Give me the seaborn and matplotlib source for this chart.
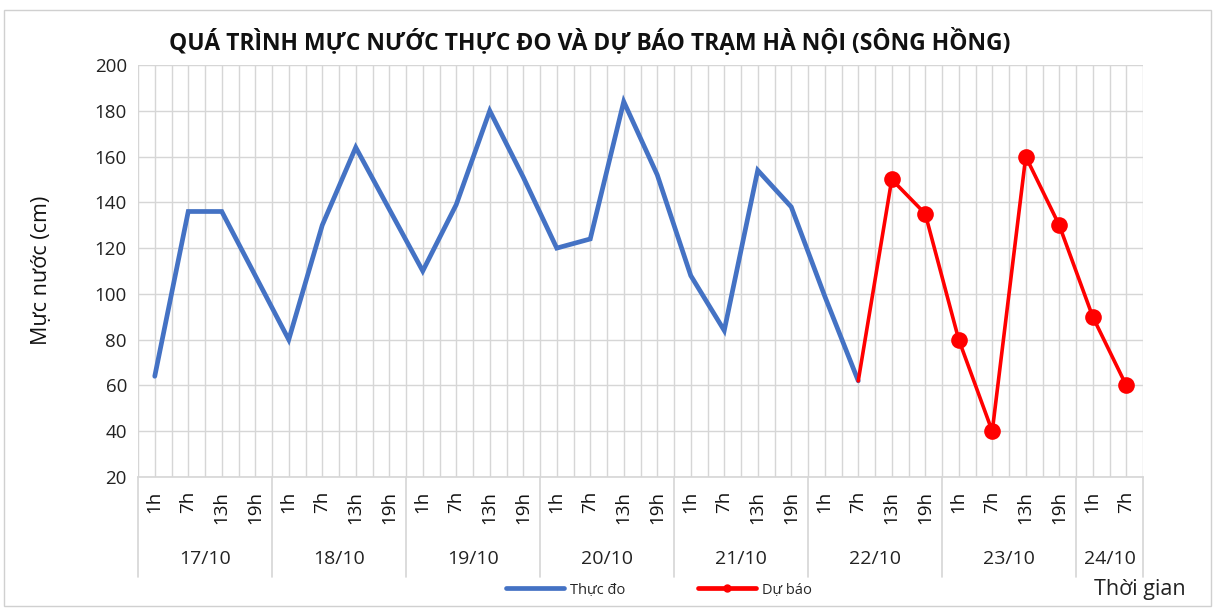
import matplotlib
matplotlib.use("Agg")
import matplotlib.pyplot as plt
import seaborn as sns
import numpy as np
import pandas as pd
from matplotlib.lines import Line2D
from matplotlib.patches import Rectangle
import matplotlib.transforms as mtransforms

days = ["17/10", "18/10", "19/10", "20/10", "21/10", "22/10", "23/10", "24/10"]
hours_per_day = [["1h", "7h", "13h", "19h"]] * 7 + [["1h", "7h"]]
observed = [64, 136, 136, 108, 80, 130, 164, 137, 110, 139, 180, 151,
            120, 124, 184, 152, 108, 84, 154, 138, 99, 62]
forecast = [62, 150, 135, 80, 40, 160, 130, 90, 60]
yticks = [20, 40, 60, 80, 100, 120, 140, 160, 180, 200]

title = "QUÁ TRÌNH MỰC NƯỚC THỰC ĐO VÀ DỰ BÁO TRẠM HÀ NỘI (SÔNG HỒNG)"
ylabel = "Mực nước (cm)"
xlabel = "Thời gian"
series_names = ["Thực đo", "Dự báo"]

sns.set_theme(style="white")
plt.rcParams['font.family'] = ['Open Sans', 'DejaVu Sans']

hour_labels = [h for hs in hours_per_day for h in hs]
n = len(hour_labels)
xpos = np.arange(n)

obs_df = pd.DataFrame({"x": xpos[:len(observed)], "y": observed})
fc_start = len(observed) - 1
fc_df = pd.DataFrame({"x": xpos[fc_start:fc_start + len(forecast)], "y": forecast})

fig = plt.figure(figsize=(12.17, 6.10), dpi=100)
ax = fig.add_axes([138/1217, 1 - 477/610, (1143-138)/1217, (477-65)/610])

blue = "#4472C4"
red = "#FF0000"
grid_c = "#d6d6d6"

sns.lineplot(data=obs_df, x="x", y="y", ax=ax, color=blue, linewidth=3.4,
             solid_joinstyle="miter", zorder=3)
sns.lineplot(data=fc_df, x="x", y="y", ax=ax, color=red, linewidth=2.6,
             marker="o", markersize=12, markeredgewidth=0, markevery=list(range(1, len(forecast))),
             zorder=4)

ax.set_xlim(-0.5, n - 0.5)
ax.set_ylim(20, 200)
ax.set_yticks(yticks)
ax.set_yticklabels([str(v) for v in yticks], fontsize=13.5, color="#222222")
ax.tick_params(axis="y", length=0, pad=8)

# vertical gridlines at centers and boundaries
ax.set_xticks(np.arange(-0.5, n, 0.5))
ax.set_xticklabels([])
ax.tick_params(axis="x", length=0)
ax.grid(True, axis="both", color=grid_c, linewidth=1.0, zorder=0)
ax.set_axisbelow(True)
for s in ["top", "right", "left"]:
    ax.spines[s].set_visible(False)
ax.spines["bottom"].set_color(grid_c)
ax.spines["bottom"].set_linewidth(1.2)
ax.set_xlabel("")
ax.set_ylabel("")

trans = mtransforms.blended_transform_factory(ax.transData, ax.transAxes)
# hour labels
for i, h in enumerate(hour_labels):
    ax.text(i, -0.034, h, rotation=90, ha="center", va="top", fontsize=13.5,
            color="#111111", transform=trans)
# day labels and separators
start = 0
bounds = [-0.5]
for d, hs in zip(days, hours_per_day):
    end = start + len(hs)
    ax.text((start + end - 1) / 2, -0.2, d, ha="center", va="center", fontsize=14,
            color="#222222", transform=trans)
    start = end
    bounds.append(end - 0.5)
for b in bounds:
    ax.add_line(Line2D([b, b], [0, -0.243], transform=trans, color=grid_c, lw=1.2, clip_on=False))

fig.text(590/1217, 1 - 42/610, title, ha="center", va="center", fontsize=16.5,
         fontweight="bold", color="#111111")
fig.text(42/1217, 1 - 270/610, ylabel, rotation=90, ha="center", va="center", fontsize=15.5,
         color="#111111")
fig.text(1140/1217, 1 - 590/610, xlabel, ha="center", va="center", fontsize=15.5,
         color="#222222")

handles = [Line2D([0], [0], color=blue, lw=3.4),
           Line2D([0], [0], color=red, lw=3.4, marker="o", markersize=5)]
fig.legend(handles, series_names, loc="center", bbox_to_anchor=(659/1217, 1 - 590/610),
           ncol=2, frameon=False, fontsize=10.5, handlelength=4.0, columnspacing=5.0,
           handletextpad=0.4)

fig.add_artist(Rectangle((4/1217, 4/610), 1 - 10/1217, 1 - 14/610, transform=fig.transFigure,
                         fill=False, edgecolor="#d0d0d0", lw=1.0))

fig.savefig("out.png", dpi=100)
